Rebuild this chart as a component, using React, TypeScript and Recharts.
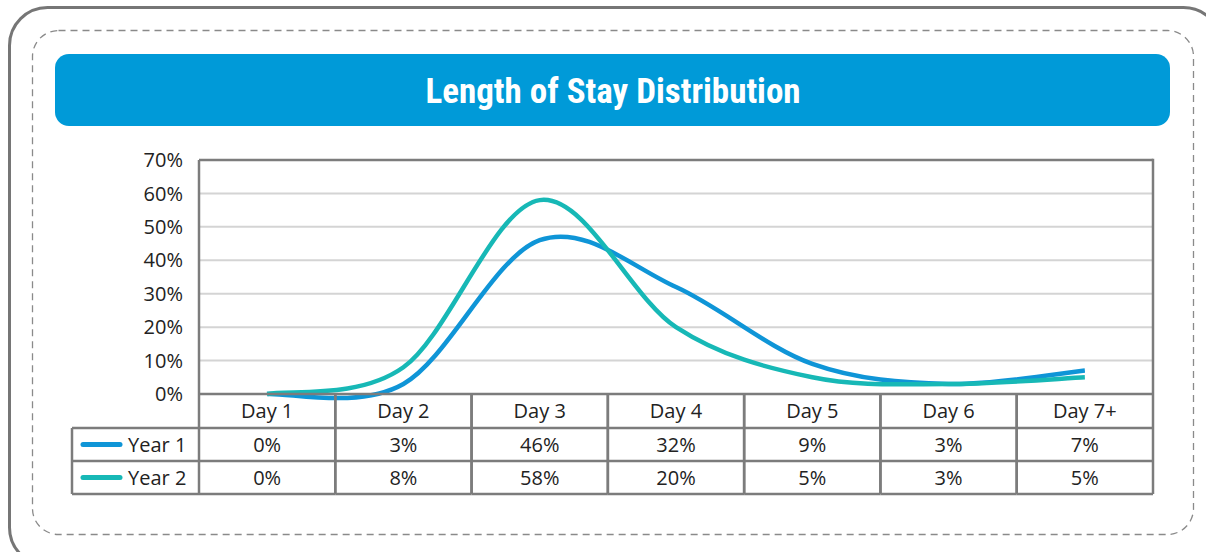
import React from "react";
import { LineChart, Line, XAxis, YAxis, CartesianGrid, ReferenceLine } from "recharts";

const days = ["Day 1", "Day 2", "Day 3", "Day 4", "Day 5", "Day 6", "Day 7+"];
const year1 = [0, 3, 46, 32, 9, 3, 7];
const year2 = [0, 8, 58, 20, 5, 3, 5];
const yTicks = [0, 10, 20, 30, 40, 50, 60, 70];
const seriesNames = ["Year 1", "Year 2"];

const W = 1206;
const H = 552;
const PLOT_LEFT = 199;
const PLOT_RIGHT = 1153;
const PLOT_TOP = 160;
const PLOT_BOTTOM = 394;
const COL_W = (PLOT_RIGHT - PLOT_LEFT) / days.length;
const ROW_H = [34, 33, 33];
const LEGEND_LEFT = 72;

const BLUE = "#0f95d7";
const TEAL = "#17b8b6";
const FRAME = "#7c7c7c";
const FONT = "'Open Sans', Lato, sans-serif";
const FS = 20;

const data = days.map((d, i) => ({ day: d, y1: year1[i], y2: year2[i] }));

// Excel-like smoothed line (Catmull-Rom as cubic beziers)
const smoothCurve = (context: any) => {
  let pts: number[][] = [];
  return {
    areaStart() {},
    areaEnd() {},
    lineStart() {
      pts = [];
    },
    point(x: number, y: number) {
      pts.push([+x, +y]);
    },
    lineEnd() {
      if (!pts.length) return;
      context.moveTo(pts[0][0], pts[0][1]);
      for (let i = 0; i < pts.length - 1; i++) {
        const p0 = pts[i - 1] || pts[i];
        const p1 = pts[i];
        const p2 = pts[i + 1];
        const p3 = pts[i + 2] || p2;
        context.bezierCurveTo(
          p1[0] + (p2[0] - p0[0]) / 6,
          p1[1] + (p2[1] - p0[1]) / 6,
          p2[0] - (p3[0] - p1[0]) / 6,
          p2[1] - (p3[1] - p1[1]) / 6,
          p2[0],
          p2[1]
        );
      }
    },
  };
};

const TableTick = (props: any) => {
  const { x, payload } = props;
  const idx = days.indexOf(payload.value);
  const top = PLOT_BOTTOM;
  const r1 = top + ROW_H[0];
  const r2 = r1 + ROW_H[1];
  const r3 = r2 + ROW_H[2];
  const left = x - COL_W / 2;
  const right = x + COL_W / 2;
  const rowsMid = [(top + r1) / 2, (r1 + r2) / 2, (r2 + r3) / 2];
  const vals = [year1[idx], year2[idx]];
  const line = { stroke: FRAME, strokeWidth: 2.5 };
  return (
    <g>
      <line x1={left} x2={left} y1={top} y2={r3} {...line} />
      <line x1={right} x2={right} y1={top} y2={r3} {...line} />
      <line x1={left} x2={right} y1={r1} y2={r1} {...line} />
      <line x1={left} x2={right} y1={r2} y2={r2} {...line} />
      <line x1={left} x2={right} y1={r3} y2={r3} {...line} />
      <text x={x} y={rowsMid[0]} dy="0.36em" textAnchor="middle" fontSize={FS} fill="#222" fontFamily={FONT}>
        {payload.value}
      </text>
      {vals.map((v, i) => (
        <text key={i} x={x} y={rowsMid[i + 1]} dy="0.36em" textAnchor="middle" fontSize={FS} fill="#222" fontFamily={FONT}>
          {v}%
        </text>
      ))}
      {idx === 0 && (
        <g>
          <line x1={LEGEND_LEFT} x2={LEGEND_LEFT} y1={r1} y2={r3} {...line} />
          <line x1={LEGEND_LEFT} x2={left} y1={r1} y2={r1} {...line} />
          <line x1={LEGEND_LEFT} x2={left} y1={r2} y2={r2} {...line} />
          <line x1={LEGEND_LEFT} x2={left} y1={r3} y2={r3} {...line} />
          {seriesNames.map((n, i) => (
            <g key={n}>
              <line
                x1={LEGEND_LEFT + 11}
                x2={LEGEND_LEFT + 48}
                y1={rowsMid[i + 1]}
                y2={rowsMid[i + 1]}
                stroke={i === 0 ? BLUE : TEAL}
                strokeWidth={5}
                strokeLinecap="round"
              />
              <text x={LEGEND_LEFT + 56} y={rowsMid[i + 1]} dy="0.36em" fontSize={FS} fill="#222" fontFamily={FONT}>
                {n}
              </text>
            </g>
          ))}
        </g>
      )}
    </g>
  );
};

export default function App() {
  return (
    <div style={{ position: "absolute", left: 0, top: 0, width: W, height: H, background: "#fff", overflow: "hidden" }}>
      <svg width={W} height={H} style={{ position: "absolute", left: 0, top: 0 }}>
        <rect x={9.5} y={7.5} width={1212} height={558} rx={38} fill="none" stroke="#767676" strokeWidth={3} />
        <rect x={32.5} y={30.5} width={1161} height={504} rx={26} fill="none" stroke="#8a8a8a" strokeWidth={1.3} strokeDasharray="7 5" />
        <rect x={55} y={54} width={1115} height={72} rx={14} fill="#009ad8" />
        <text
          x={613}
          y={90}
          dy="0.36em"
          textAnchor="middle"
          fill="#fff"
          fontSize={35}
          fontWeight="bold"
          fontFamily="'Liberation Sans Narrow', 'Roboto Condensed', Roboto, sans-serif"
        >
          Length of Stay Distribution
        </text>
      </svg>
      <div style={{ position: "absolute", left: 0, top: 0 }}>
        <LineChart
          width={W}
          height={H}
          data={data}
          margin={{ top: PLOT_TOP, left: PLOT_LEFT - 60, right: W - PLOT_RIGHT, bottom: H - PLOT_BOTTOM - 110 }}
        >
          <CartesianGrid vertical={false} stroke="#d4d4d4" strokeWidth={2} />
          <XAxis
            dataKey="day"
            scale="band"
            height={110}
            interval={0}
            axisLine={{ stroke: FRAME, strokeWidth: 2.5 }}
            tickLine={false}
            tickSize={0}
            tickMargin={0}
            tick={<TableTick />}
          />
          <YAxis
            domain={[0, 70]}
            ticks={yTicks}
            width={60}
            tickFormatter={(v: number) => `${v}%`}
            axisLine={{ stroke: FRAME, strokeWidth: 2.5 }}
            tickLine={false}
            tickSize={0}
            tickMargin={16}
            tick={{ fill: "#222", fontSize: FS, fontFamily: FONT }}
          />
          <ReferenceLine y={70} stroke={FRAME} strokeWidth={2.5} />
          <Line dataKey="y1" name="Year 1" type={smoothCurve as any} stroke={BLUE} strokeWidth={4.5} dot={false} isAnimationActive={false} />
          <Line dataKey="y2" name="Year 2" type={smoothCurve as any} stroke={TEAL} strokeWidth={4.5} dot={false} isAnimationActive={false} />
        </LineChart>
      </div>
      <svg width={W} height={H} style={{ position: "absolute", left: 0, top: 0, pointerEvents: "none" }}>
        <line x1={PLOT_RIGHT} x2={PLOT_RIGHT} y1={PLOT_TOP - 1.25} y2={PLOT_BOTTOM} stroke={FRAME} strokeWidth={2.5} />
      </svg>
    </div>
  );
}
